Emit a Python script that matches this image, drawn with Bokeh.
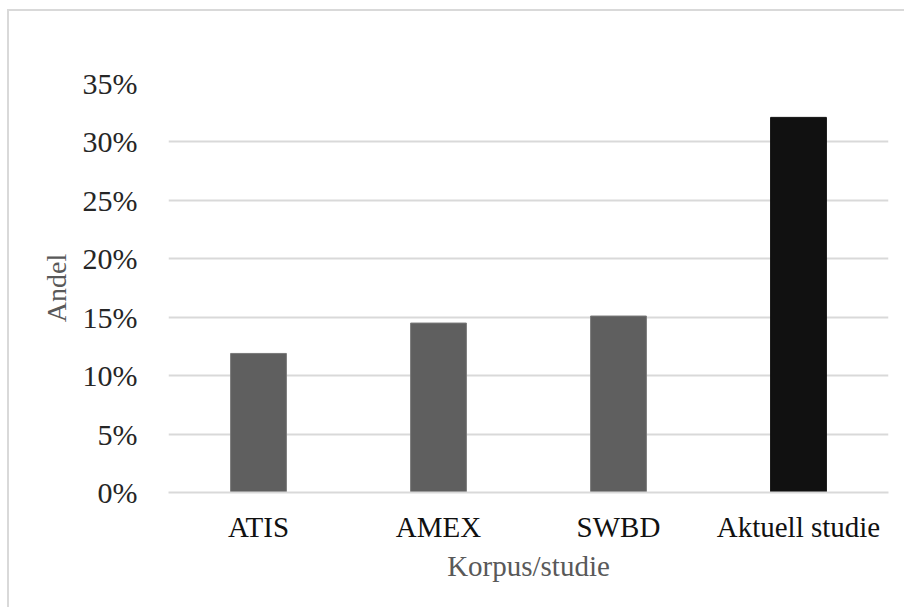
from bokeh.plotting import figure
from bokeh.models import ColumnDataSource, FactorRange, Range1d, NumeralTickFormatter, FixedTicker
from bokeh.embed import file_html
from bokeh.resources import INLINE

# Share of each corpus / study
categories = ["ATIS", "AMEX", "SWBD", "Aktuell studie"]
shares = [0.119, 0.145, 0.151, 0.321]
bar_colors = ["#5f5f5f", "#5f5f5f", "#5f5f5f", "#111111"]
outline_colors = ["#7a7a7a", "#7a7a7a", "#7a7a7a", "#111111"]
y_ticks = [0.0, 0.05, 0.10, 0.15, 0.20, 0.25, 0.30, 0.35]

source = ColumnDataSource(dict(cat=categories, share=shares,
                               fill=bar_colors, edge=outline_colors))

p = figure(
    x_range=FactorRange(*categories, range_padding=0.0),
    y_range=Range1d(0, 0.35),
    width=897, height=598,
    output_backend="svg", toolbar_location=None,
    min_border_left=159, min_border_right=18,
    min_border_top=72, min_border_bottom=117,
)
p.margin = (9, 0, 0, 7)
p.styles = {"border-left": "2px solid #d9d9d9", "border-top": "2px solid #d9d9d9"}
p.outline_line_color = None
p.background_fill_color = "white"
p.border_fill_color = "white"

p.vbar(x="cat", top="share", width=0.31, source=source,
       fill_color="fill", line_color="edge", line_width=1)

# Grid
p.xgrid.grid_line_color = None
p.ygrid.grid_line_color = "#d9d9d9"
p.ygrid.grid_line_width = 2

serif = "'Liberation Serif', 'Times New Roman', serif"

# Y axis
p.yaxis.ticker = FixedTicker(ticks=y_ticks)
p.yaxis.formatter = NumeralTickFormatter(format="0%")
p.yaxis.axis_line_color = None
p.yaxis.major_tick_line_color = None
p.yaxis.minor_tick_line_color = None
p.yaxis.major_label_text_font = serif
p.yaxis.major_label_text_font_size = "30px"
p.yaxis.major_label_text_color = "#262626"
p.yaxis.major_label_standoff = 25
p.yaxis.axis_label = "Andel"
p.yaxis.axis_label_text_font = serif
p.yaxis.axis_label_text_font_size = "28px"
p.yaxis.axis_label_text_font_style = "normal"
p.yaxis.axis_label_text_color = "#595959"
p.yaxis.axis_label_standoff = 8

# X axis
p.xaxis.axis_line_color = "#d9d9d9"
p.xaxis.axis_line_width = 2
p.xaxis.major_tick_line_color = None
p.xaxis.minor_tick_line_color = None
p.xaxis.major_label_text_font = serif
p.xaxis.major_label_text_font_size = "29px"
p.xaxis.major_label_text_color = "#111111"
p.xaxis.major_label_standoff = 12
p.xaxis.axis_label = "Korpus/studie"
p.xaxis.axis_label_text_font = serif
p.xaxis.axis_label_text_font_size = "29px"
p.xaxis.axis_label_text_font_style = "normal"
p.xaxis.axis_label_text_color = "#595959"
p.xaxis.axis_label_standoff = 4

open("out.html", "w").write(file_html(p, INLINE))
